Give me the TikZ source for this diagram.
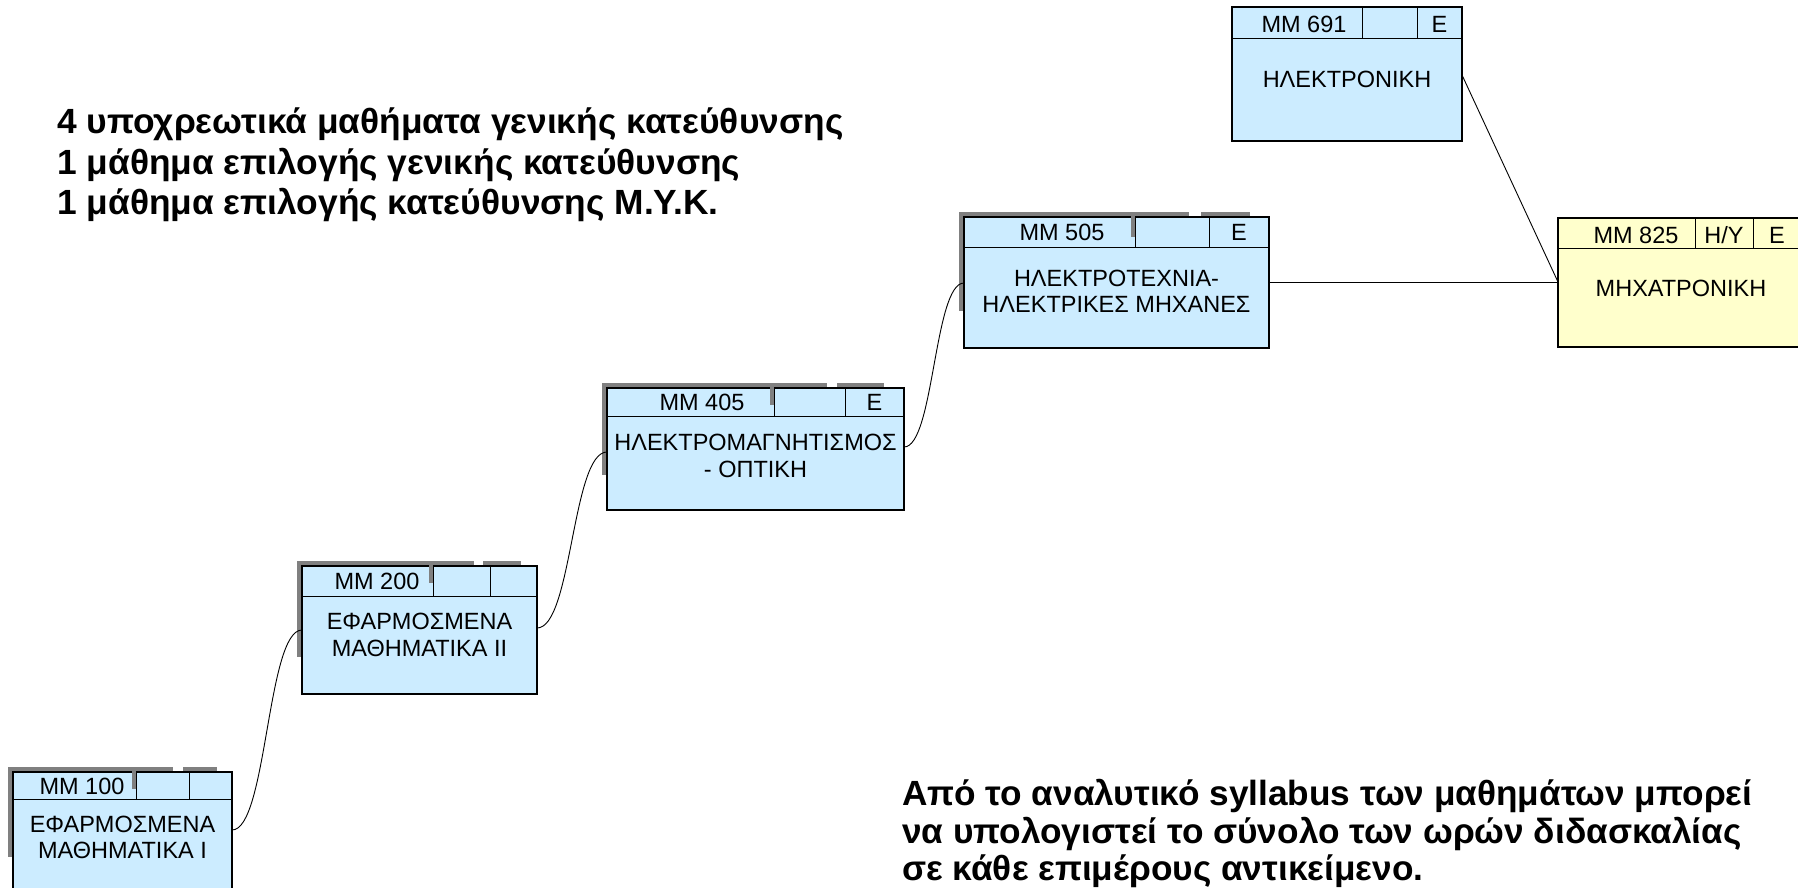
\documentclass[tikz,border=0pt]{standalone}
\usepackage{fontspec}
\setmainfont{Liberation Sans}
\usetikzlibrary{calc}
\definecolor{boxblue}{HTML}{CCECFF}
\definecolor{boxyellow}{HTML}{FFFFCC}
\definecolor{shadowgray}{HTML}{808080}
\newlength\LineA
\newlength\LineB
\newcommand\bigfont{\fontsize{35}{40}\selectfont\bfseries}
\newcommand\boxfont{\fontsize{23.5}{27}\selectfont}
\tikzset{
  cbox/.style={draw=black, line width=1.4pt, anchor=north west, inner sep=0pt, outer sep=0pt},
  sep/.style={line width=1pt, black},
  hdr/.style={font=\boxfont, anchor=base, inner sep=0pt},
  bodytxt/.style={font=\boxfont, anchor=base, inner sep=0pt},
  shade/.style={fill=shadowgray, draw=none},
  link/.style={line width=0.9pt, black},
  bigtxt/.style={font=\bigfont, anchor=base west, inner sep=0pt}
}
% #1 name, #2 L, #3 T, #4 header bottom, #5 R, #6 B, #7 d1, #8 d2, #9 fill
\newcommand\course[9]{%
  \node[cbox, fill=#9, minimum width={#5-#2}, minimum height={#6-#3}] (#1) at (#2,#3) {};
  \draw[sep] (#2,#4) -- (#5,#4) (#7,#3) -- (#7,#4) (#8,#3) -- (#8,#4);
}
% shadow: #1 L, #2 T, #3 end seg1, #4 start seg2, #5 end seg2, #6 vertical x, #7 left bottom
\newcommand\shadowpart[7]{%
  \fill[shade] (#1-5,#2-5) rectangle (#3,#2);
  \fill[shade] (#4,#2-5) rectangle (#5,#2);
  \fill[shade] (#1-5,#2-5) rectangle (#1,#7);
}
\settowidth\LineA{\bigfont 4 υποχρεωτικά μαθήματα γενικής κατεύθυνσης}
\settowidth\LineB{\bigfont Από το αναλυτικό syllabus των μαθημάτων μπορεί}
\begin{document}
\pgfmathsetmacro\sxA{786/\LineA}%
\pgfmathsetmacro\sxB{850/\LineB}%
\begin{tikzpicture}[x=1pt,y=-1pt]
\useasboundingbox (0,0) rectangle (1798,888);
\fill[white] (0,0) rectangle (1798,888);

% shadows
\shadowpart{13}{772}{173}{183}{217}{134}{857}
\shadowpart{302}{566}{474}{483}{521}{430}{657}
\shadowpart{607}{388}{827}{837}{884}{771}{475}
\shadowpart{964}{217}{1189}{1201}{1250}{1132}{311}

% boxes
\course{m100}{13}{772}{799}{232}{900}{136}{189}{boxblue}
\course{m200}{302}{566}{596}{537}{694}{433}{490}{boxblue}
\course{m405}{607}{388}{416}{904}{510}{774}{845}{boxblue}
\course{m505}{964}{217}{247}{1269}{348}{1135}{1209}{boxblue}
\course{m691}{1232}{7}{39}{1462}{141}{1362}{1417}{boxblue}
\course{m825}{1558}{218}{248}{1802}{347}{1695}{1753}{boxyellow}

% shadow pieces over header cells
\fill[shade] (132,767) rectangle (136,789);
\fill[shade] (429,562) rectangle (433,583);
\fill[shade] (770,383) rectangle (774,405);
\fill[shade] (1131,213) rectangle (1135,237);

% header texts
\node[hdr] (m100h1) at (82,794) {ΜΜ 100};
\node[hdr] (m200h1) at (377,589) {ΜΜ 200};
\node[hdr] (m405h1) at (702,410) {ΜΜ 405};
\node[hdr] (m405h3) at (874.5,410) {Ε};
\node[hdr] (m505h1) at (1062,240) {ΜΜ 505};
\node[hdr] (m505h3) at (1239,240) {Ε};
\node[hdr] (m691h1) at (1304,33) {ΜΜ 691};
\node[hdr] (m691h3) at (1439.5,33) {Ε};
\node[hdr] (m825h1) at (1636,243) {ΜΜ 825};
\node[hdr] (m825h2) at (1724,243) {Η/Υ};
\node[hdr] (m825h3) at (1777,243) {Ε};

% body texts
\node[bodytxt] (m100a) at (122.5,832) {ΕΦΑΡΜΟΣΜΕΝΑ};
\node[bodytxt] (m100b) at (122.5,858) {ΜΑΘΗΜΑΤΙΚΑ Ι};
\node[bodytxt] (m200a) at (419.5,629) {ΕΦΑΡΜΟΣΜΕΝΑ};
\node[bodytxt] (m200b) at (419.5,656) {ΜΑΘΗΜΑΤΙΚΑ ΙΙ};
\node[bodytxt] (m405a) at (755.5,450) {ΗΛΕΚΤΡΟΜΑΓΝΗΤΙΣΜΟΣ};
\node[bodytxt] (m405b) at (755.5,477) {- ΟΠΤΙΚΗ};
\node[bodytxt] (m505a) at (1116.5,286) {ΗΛΕΚΤΡΟΤΕΧΝΙΑ-};
\node[bodytxt] (m505b) at (1116.5,312) {ΗΛΕΚΤΡΙΚΕΣ ΜΗΧΑΝΕΣ};
\node[bodytxt] (m691a) at (1347,88) {ΗΛΕΚΤΡΟΝΙΚΗ};
\node[bodytxt] (m825a) at (1681,296) {ΜΗΧΑΤΡΟΝΙΚΗ};

% connectors
\draw[link] ($(m100.north east)+(0,58)$) .. controls +(35,0) and +(-35,0) .. ($(m200.north west)+(0,64)$);
\draw[link] ($(m200.north east)+(0,62)$) .. controls +(35,0) and +(-35,0) .. ($(m405.north west)+(0,64)$);
\draw[link] ($(m405.north east)+(0,59)$) .. controls +(30,0) and +(-30,0) .. ($(m505.north west)+(0,66)$);
\draw[link] ($(m505.north east)+(0,65)$) -- ($(m825.north west)+(0,64)$);
\draw[link] ($(m691.north east)+(0,68)$) -- ($(m825.north west)+(0,64)$);

% big texts
\node[bigtxt] (t1) at (57,134) {\scalebox{\sxA}[1]{4 υποχρεωτικά μαθήματα γενικής κατεύθυνσης}};
\node[bigtxt] (t2) at (57,174) {\scalebox{\sxA}[1]{1 μάθημα επιλογής γενικής κατεύθυνσης}};
\node[bigtxt] (t3) at (57,214) {\scalebox{\sxA}[1]{1 μάθημα επιλογής κατεύθυνσης Μ.Υ.Κ.}};
\node[bigtxt] (b1) at (902,805) {\scalebox{\sxB}[1]{Από το αναλυτικό syllabus των μαθημάτων μπορεί}};
\node[bigtxt] (b2) at (902,843) {\scalebox{\sxB}[1]{να υπολογιστεί το σύνολο των ωρών διδασκαλίας}};
\node[bigtxt] (b3) at (902,880) {\scalebox{\sxB}[1]{σε κάθε επιμέρους αντικείμενο.}};
\end{tikzpicture}
\end{document}
